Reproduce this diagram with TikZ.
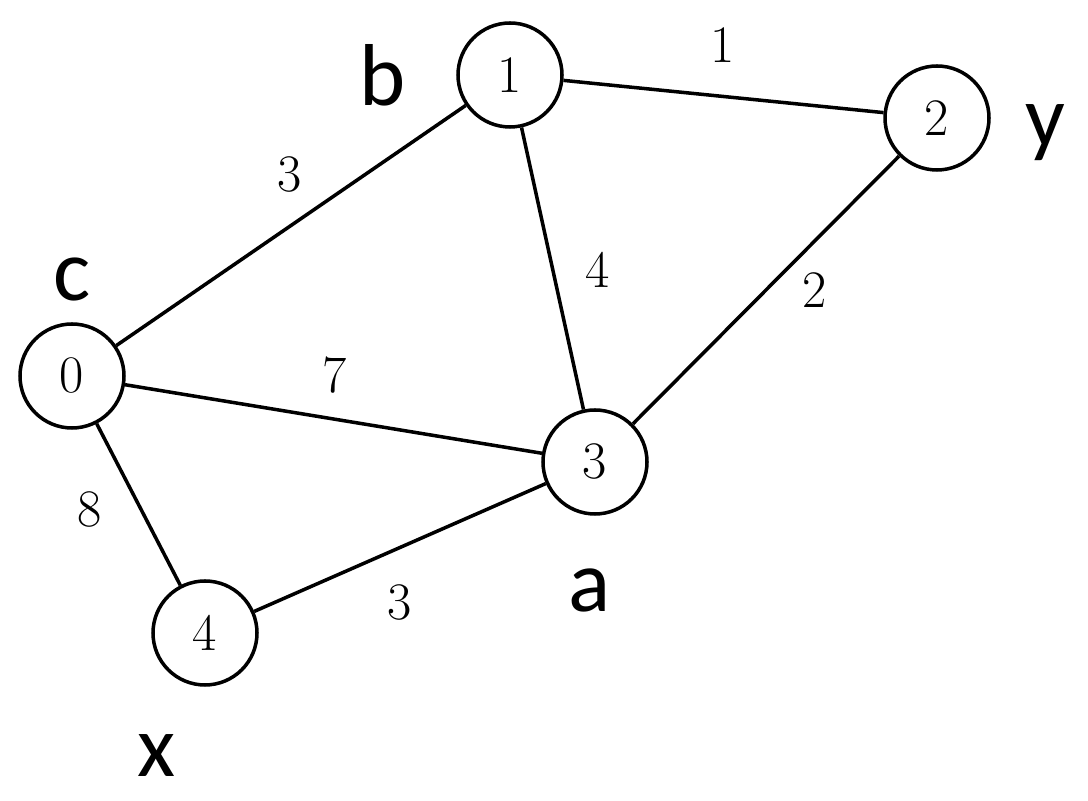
\documentclass[tikz,border=0pt]{standalone}
\usepackage{fontspec}
\newfontfamily\lblfont{Carlito}
\usetikzlibrary{positioning}

\begin{document}
\begin{tikzpicture}[
        vtx/.style={draw, circle, line width=2pt, minimum size=2.08cm, inner sep=0pt, font=\fontsize{30}{36}\selectfont},
        wt/.style={font=\fontsize{30}{36}\selectfont, inner sep=0pt},
        tag/.style={font=\lblfont\fontsize{50}{60}\selectfont, inner sep=0pt},
        edge/.style={line width=2pt}
    ]
        \useasboundingbox (0,0) rectangle (21.76,16.02);
        % vertices
        \node[vtx] (n0) at (1.44,8.5) {0};
        \node[vtx] (n1) at (10.2,14.52) {1};
        \node[vtx] (n2) at (18.74,13.66) {2};
        \node[vtx] (n3) at (11.9,6.78) {3};
        \node[vtx] (n4) at (4.1,3.36) {4};
        % names
        \node[tag] (tb) at (7.66,14.52) {b};
        \node[tag] (tc) at (1.44,10.42) {c};
        \node[tag] (ty) at (20.9,13.36) {y};
        \node[tag] (ta) at (11.8,4.22) {a};
        \node[tag] (tx) at (3.14,0.9) {x};
        % edges
        \draw[edge] (n1) -- (n2);
        \draw[edge] (n0) -- (n1);
        \draw[edge] (n1) -- (n3);
        \draw[edge] (n2) -- (n3);
        \draw[edge] (n0) -- (n3);
        \draw[edge] (n0) -- (n4);
        \draw[edge] (n4) -- (n3);
        % weights
        \node[wt] (w12) at (14.46,15.12) {1};
        \node[wt] (w01) at (5.8,12.52) {3};
        \node[wt] (w13) at (11.96,10.62) {4};
        \node[wt] (w23) at (16.3,10.22) {2};
        \node[wt] (w03) at (6.7,8.52) {7};
        \node[wt] (w04) at (1.8,5.82) {8};
        \node[wt] (w43) at (8.0,3.96) {3};
    \end{tikzpicture}
\end{document}
